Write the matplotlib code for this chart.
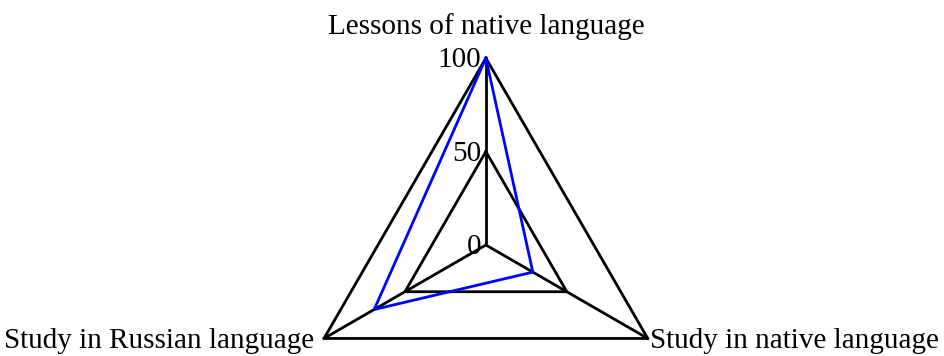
import numpy as np
import matplotlib
matplotlib.use("Agg")
from matplotlib import pyplot as plt
from matplotlib import transforms

categories = ["Lessons of native language", "Study in native language", "Study in Russian language"]
values = [100, 29, 69]
grid_levels = [50, 100]
tick_labels = ["0", "50", "100"]
tick_values = [0, 50, 100]

plt.rcParams["font.family"] = ["Liberation Serif", "DejaVu Serif"]

fig = plt.figure(figsize=(9.44, 3.56), dpi=100)
ax = fig.add_axes([0.3167, -0.2135, 0.396, 1.0506], projection="polar")

# axes at 90, -30, 210 degrees (clockwise from top)
angles = np.deg2rad([90, -30, 210])
closed = np.append(angles, angles[0])

for lvl in grid_levels:
    ax.plot(closed, [lvl] * 4, color="black", lw=2, clip_on=False)
for a in angles:
    ax.plot([a, a], [0, 100], color="black", lw=2, clip_on=False)

ax.plot(closed, values + values[:1], color="#0000ff", lw=2, clip_on=False)

ax.set_ylim(0, 100)
ax.set_axis_off()

shift = transforms.ScaledTranslation(-5 / 100, -2 / 100, fig.dpi_scale_trans)
for v, lab in zip(tick_values, tick_labels):
    ax.text(np.pi / 2, v, lab, ha="right", va="center", fontsize=21,
            transform=ax.transData + shift)

fig.text(486 / 944, 1 - 34 / 356, categories[0], ha="center", va="baseline", fontsize=21)
fig.text(650 / 944, 1 - 348 / 356, categories[1], ha="left", va="baseline", fontsize=21)
fig.text(314 / 944, 1 - 348 / 356, categories[2], ha="right", va="baseline", fontsize=21)

fig.savefig("out.png", dpi=100)
